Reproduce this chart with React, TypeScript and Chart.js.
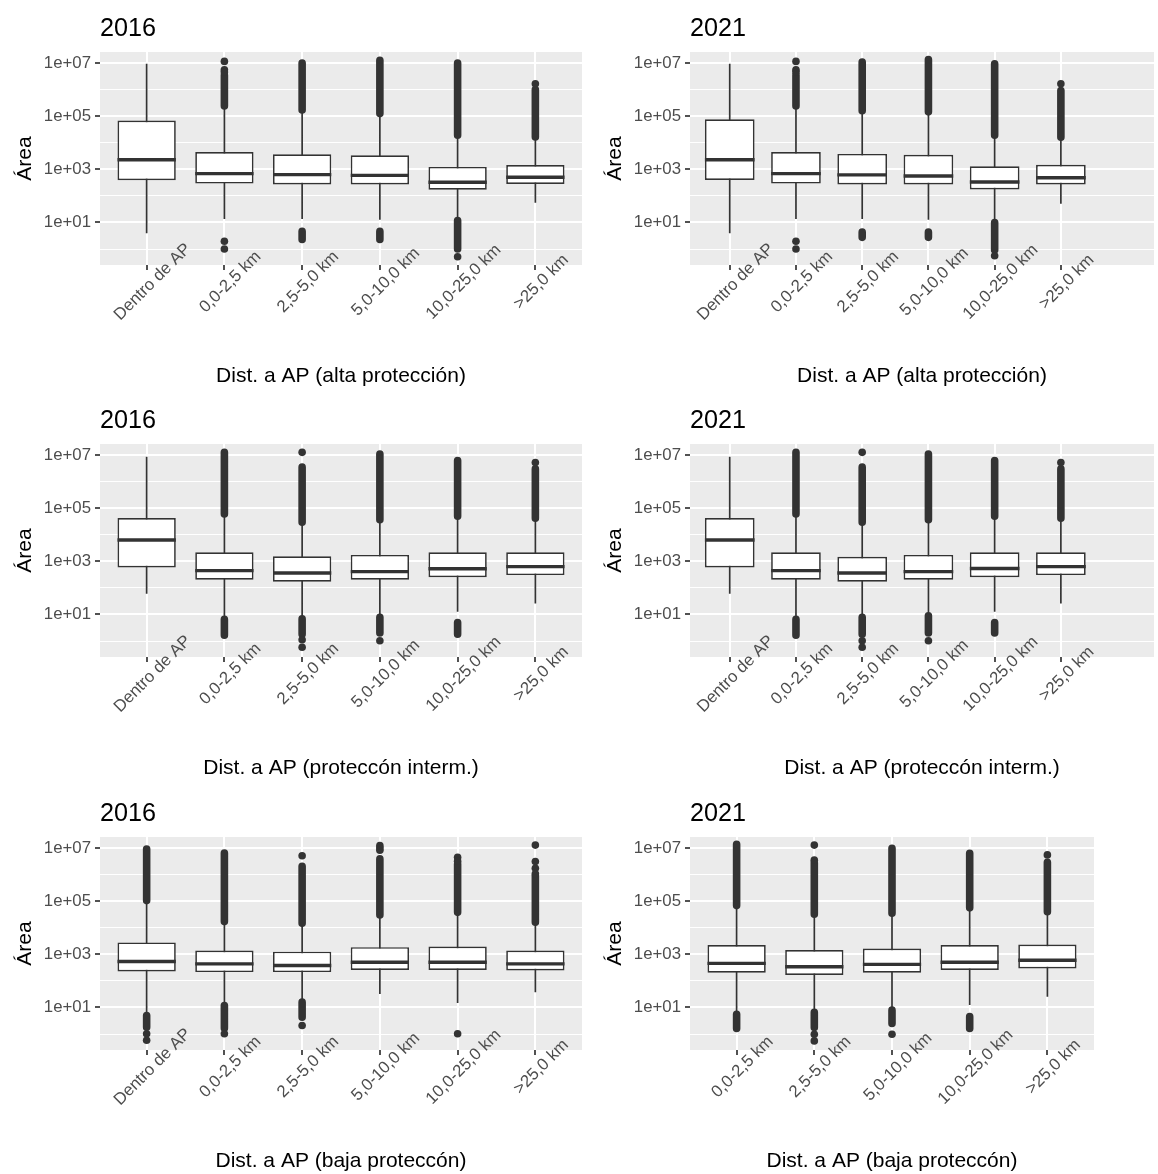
import React, { useEffect, useRef } from "react";
import { Chart, registerables } from "chart.js";

Chart.register(...registerables);

// ---------- DATA ----------
const catsAll = ["Dentro de AP", "0,0-2,5 km", "2,5-5,0 km", "5,0-10,0 km", "10,0-25,0 km", ">25,0 km"];
const catsOut = ["0,0-2,5 km", "2,5-5,0 km", "5,0-10,0 km", "10,0-25,0 km", ">25,0 km"];

const yTickValues = [1, 10, 100, 1e3, 1e4, 1e5, 1e6, 1e7];
const yLabelValues = [10, 1e3, 1e5, 1e7];

// 2016 - alta protección
const alta16Low = [3.9, 13.5, 13.5, 12.6, 13.5, 55];
const alta16Q1 = [389, 290, 270, 270, 170, 282];
const alta16Med = [2300, 690, 630, 590, 324, 500];
const alta16Q3 = [69000, 4500, 3700, 3400, 1230, 1450];
const alta16High = [9.3e6, 2.3e5, 1.66e5, 1.23e5, 1.86e4, 1.62e4];
const alta16OutHigh = [null, [2.4e5, 3.5e6], [1.7e5, 1.0e7], [1.25e5, 1.26e7], [1.9e4, 1.0e7], [1.65e4, 1.0e6]];
const alta16OutLow = [null, null, [2.3, 4.6], [2.3, 4.6], [1.0, 11.7], null];
const alta16Points = [[1, 1.15e7], [1, 5.6e6], [1, 4.6e6], [1, 1.95], [1, 1.0], [4, 0.51], [5, 1.66e6]];

// 2021 - alta protección
const alta21Low = [3.9, 13.5, 13.5, 12.6, 13.5, 50];
const alta21Q1 = [398, 290, 270, 270, 174, 270];
const alta21Med = [2300, 690, 617, 562, 331, 479];
const alta21Q3 = [75900, 4500, 3800, 3550, 1290, 1480];
const alta21High = [9.3e6, 2.3e5, 1.55e5, 1.4e5, 1.86e4, 1.55e4];
const alta21OutHigh = [null, [2.4e5, 3.5e6], [1.6e5, 1.1e7], [1.45e5, 1.35e7], [1.9e4, 9.3e6], [1.6e4, 9.3e5]];
const alta21OutLow = [null, null, [2.75, 4.3], [2.75, 4.3], [0.91, 10], null];
const alta21Points = [[1, 1.15e7], [1, 5.6e6], [1, 4.6e6], [1, 1.95], [1, 1.0], [4, 0.56], [5, 1.66e6]];

// 2016 - protección intermedia
const int16Low = [60, 6.8, 7.1, 8.5, 12.6, 26];
const int16Q1 = [590, 204, 170, 204, 251, 302];
const int16Med = [6300, 447, 363, 407, 525, 630];
const int16Q3 = [42700, 2190, 1550, 1740, 2190, 2190];
const int16High = [8.7e6, 5.6e4, 2.8e4, 3.5e4, 4.8e4, 4.0e4];
const int16OutHigh = [null, [6.0e4, 1.26e7], [2.95e4, 3.5e6], [3.7e4, 1.1e7], [5.0e4, 6.2e6], [4.2e4, 3.0e6]];
const int16OutLow = [null, [1.66, 6.5], [1.8, 6.8], [2.0, 7.8], [1.8, 5.0], null];
const int16Points = [[2, 1.26e7], [2, 1.12], [2, 0.58], [3, 1.02], [5, 5.2e6]];

// 2021 - protección intermedia
const int21Low = [60, 6.8, 7.1, 8.9, 12.6, 26];
const int21Q1 = [590, 204, 170, 204, 251, 302];
const int21Med = [6300, 447, 363, 407, 537, 630];
const int21Q3 = [42700, 2190, 1480, 1740, 2190, 2190];
const int21High = [8.7e6, 5.6e4, 2.8e4, 3.5e4, 4.8e4, 4.0e4];
const int21OutHigh = [null, [6.0e4, 1.26e7], [2.95e4, 3.5e6], [3.7e4, 1.1e7], [5.0e4, 6.2e6], [4.2e4, 3.0e6]];
const int21OutLow = [null, [1.66, 6.5], [1.8, 7.8], [2.0, 8.9], [2.0, 5.0], null];
const int21Points = [[2, 1.26e7], [2, 1.02], [2, 0.58], [3, 1.02], [5, 5.2e6]];

// 2016 - baja protección
const baja16Low = [5.2, 13.8, 18, 32, 14.8, 37];
const baja16Q1 = [224, 214, 214, 257, 257, 245];
const baja16Med = [537, 437, 380, 500, 500, 437];
const baja16Q3 = [2800, 1380, 1260, 1860, 1950, 1380];
const baja16High = [1.0e5, 1.6e4, 1.4e4, 2.9e4, 3.6e4, 1.55e4];
const baja16OutHigh = [[1.05e5, 9.1e6], [1.7e4, 6.5e6], [1.48e4, 2.04e6], [3.0e4, 3.9e6], [3.8e4, 2.5e6], [1.62e4, 9.1e5]];
const baja16OutLow = [[1.8, 5.0], [1.66, 11.7], [4.3, 15.8], null, null, null];
const baja16Points = [
  [0, 1.02], [0, 0.58], [1, 1.02], [2, 5.1e6], [2, 2.1],
  [3, 1.23e7], [3, 1.0e7], [3, 8.3e6], [4, 4.5e6], [4, 3.2e6], [4, 1.02],
  [5, 1.29e7], [5, 3.1e6], [5, 1.74e6], [5, 1.07e6],
];

// 2021 - baja protección
const baja21Low = [6.0, 7.2, 9.1, 12.3, 25];
const baja21Q1 = [204, 166, 204, 257, 295];
const baja21Med = [457, 339, 417, 500, 600];
const baja21Q3 = [2240, 1450, 1660, 2240, 2340];
const baja21High = [6.3e4, 3.0e4, 3.3e4, 5.2e4, 3.8e4];
const baja21OutHigh = [[6.8e4, 1.38e7], [3.2e4, 2.8e6], [3.5e4, 9.8e6], [5.6e4, 6.3e6], [4.0e4, 2.9e6]];
const baja21OutLow = [[1.62, 5.5], [1.74, 6.5], [2.5, 7.9], [1.62, 4.5], null];
const baja21Points = [[1, 1.29e7], [1, 3.5e6], [1, 0.98], [1, 0.55], [2, 0.98], [4, 5.5e6]];

// ---------- PANELS ----------
type Panel = {
  title: string;
  xTitle: string;
  cats: string[];
  low: number[];
  q1: number[];
  med: number[];
  q3: number[];
  high: number[];
  outHigh: (number[] | null)[];
  outLow: (number[] | null)[];
  points: number[][];
  left: number;
  top: number;
  width: number;
  height: number;
  axisWidth: number;
  padRight: number;
  xMax: number;
  yTitlePad: number;
};

const FONT = '"Liberation Sans", Arial, Helvetica, sans-serif';

const panels: Panel[] = [
  {
    title: "2016", xTitle: "Dist. a AP (alta protección)", cats: catsAll,
    low: alta16Low, q1: alta16Q1, med: alta16Med, q3: alta16Q3, high: alta16High,
    outHigh: alta16OutHigh, outLow: alta16OutLow, points: alta16Points,
    left: 0, top: 0, width: 600, height: 392, axisWidth: 100, padRight: 18, xMax: 5.6, yTitlePad: 13,
  },
  {
    title: "2021", xTitle: "Dist. a AP (alta protección)", cats: catsAll,
    low: alta21Low, q1: alta21Q1, med: alta21Med, q3: alta21Q3, high: alta21High,
    outHigh: alta21OutHigh, outLow: alta21OutLow, points: alta21Points,
    left: 600, top: 0, width: 558, height: 392, axisWidth: 90, padRight: 0, xMax: 6.406, yTitlePad: 3,
  },
  {
    title: "2016", xTitle: "Dist. a AP (proteccón interm.)", cats: catsAll,
    low: int16Low, q1: int16Q1, med: int16Med, q3: int16Q3, high: int16High,
    outHigh: int16OutHigh, outLow: int16OutLow, points: int16Points,
    left: 0, top: 392, width: 600, height: 393, axisWidth: 100, padRight: 18, xMax: 5.6, yTitlePad: 13,
  },
  {
    title: "2021", xTitle: "Dist. a AP (proteccón interm.)", cats: catsAll,
    low: int21Low, q1: int21Q1, med: int21Med, q3: int21Q3, high: int21High,
    outHigh: int21OutHigh, outLow: int21OutLow, points: int21Points,
    left: 600, top: 392, width: 558, height: 393, axisWidth: 90, padRight: 0, xMax: 6.406, yTitlePad: 3,
  },
  {
    title: "2016", xTitle: "Dist. a AP (baja proteccón)", cats: catsAll,
    low: baja16Low, q1: baja16Q1, med: baja16Med, q3: baja16Q3, high: baja16High,
    outHigh: baja16OutHigh, outLow: baja16OutLow, points: baja16Points,
    left: 0, top: 785, width: 600, height: 389, axisWidth: 100, padRight: 18, xMax: 5.6, yTitlePad: 13,
  },
  {
    title: "2021", xTitle: "Dist. a AP (baja proteccón)", cats: catsOut,
    low: baja21Low, q1: baja21Q1, med: baja21Med, q3: baja21Q3, high: baja21High,
    outHigh: baja21OutHigh, outLow: baja21OutLow, points: baja21Points,
    left: 600, top: 785, width: 558, height: 389, axisWidth: 90, padRight: 64, xMax: 4.6, yTitlePad: 3,
  },
];

const PLOT_TOP = 52;
const PLOT_BOTTOM = 265;
const TICK_LEN = 5;
const BOX_HALF = 0.375;

function fmtExp(v: number) {
  const e = Math.round(Math.log10(v));
  return "1e" + (e >= 0 ? "+" : "-") + String(Math.abs(e)).padStart(2, "0");
}
function isLabelled(v: number | undefined) {
  if (v === undefined || v === null) return false;
  const e = Math.round(Math.log10(v));
  return Math.abs(e % 2) === 1;
}

function segments(pairs: (number[] | null)[]) {
  const out: any[] = [];
  pairs.forEach((p, i) => {
    if (p) out.push({ x: i, y: p[0] }, { x: i, y: p[1] }, { x: i, y: null });
  });
  return out;
}

const ggPlugin = {
  id: "gg",
  beforeDraw(chart: any) {
    const { ctx, chartArea: a } = chart;
    ctx.save();
    ctx.fillStyle = "#EBEBEB";
    ctx.fillRect(a.left, a.top, a.right - a.left, a.bottom - a.top);
    ctx.restore();
  },
  afterDraw(chart: any, _args: any, opts: any) {
    const { ctx, chartArea: a } = chart;
    const xs = chart.scales.x;
    ctx.save();
    // panel title
    ctx.fillStyle = "#000000";
    ctx.font = `25.2px ${FONT}`;
    ctx.textAlign = "left";
    ctx.textBaseline = "alphabetic";
    ctx.fillText(opts.title, a.left, a.top - 16.3);
    // rotated category labels
    ctx.fillStyle = "#4D4D4D";
    ctx.font = `16.8px ${FONT}`;
    ctx.textAlign = "center";
    ctx.textBaseline = "middle";
    (opts.cats as string[]).forEach((c, i) => {
      const px = xs.getPixelForValue(i);
      ctx.save();
      ctx.translate(px + 6, a.bottom + 17);
      ctx.rotate(-Math.PI / 4);
      ctx.fillText(c, 0, 0);
      ctx.restore();
    });
    // x axis title
    ctx.fillStyle = "#000000";
    ctx.font = `21px ${FONT}`;
    ctx.textAlign = "center";
    ctx.textBaseline = "middle";
    ctx.fillText(opts.xTitle, (a.left + a.right) / 2, a.bottom + 111);
    ctx.restore();
  },
};

function PanelChart({ p }: { p: Panel }) {
  const ref = useRef<HTMLCanvasElement>(null);
  useEffect(() => {
    if (!ref.current) return;
    const n = p.cats.length;
    const whiskers = segments(p.cats.map((_, i) => [p.low[i], p.high[i]]));
    const medians: any[] = [];
    p.cats.forEach((_, i) => {
      medians.push({ x: i - BOX_HALF, y: p.med[i] }, { x: i + BOX_HALF, y: p.med[i] }, { x: i, y: null });
    });
    const boxes = p.cats.map((_, i) => ({ x: i, y: [p.q1[i], p.q3[i]] }));
    const dense = [...segments(p.outHigh), ...segments(p.outLow)];
    const pts = p.points.map(([i, v]) => ({ x: i, y: v }));

    const chart = new Chart(ref.current, {
      type: "bar",
      data: {
        datasets: [
          {
            type: "line",
            data: whiskers,
            borderColor: "#333333",
            borderWidth: 1.7,
            pointRadius: 0,
            spanGaps: false,
            order: 4,
          } as any,
          {
            type: "bar",
            data: boxes,
            backgroundColor: "#FFFFFF",
            borderColor: "#333333",
            borderWidth: 1.7,
            borderSkipped: false,
            categoryPercentage: 0.75,
            barPercentage: 1,
            order: 3,
          } as any,
          {
            type: "line",
            data: medians,
            borderColor: "#333333",
            borderWidth: 3.4,
            pointRadius: 0,
            spanGaps: false,
            order: 2,
          } as any,
          {
            type: "line",
            data: dense,
            borderColor: "#333333",
            borderWidth: 7.6,
            borderCapStyle: "round",
            pointRadius: 0,
            spanGaps: false,
            order: 1,
          } as any,
          {
            type: "line",
            data: pts,
            showLine: false,
            pointRadius: 3.8,
            pointBackgroundColor: "#333333",
            pointBorderWidth: 0,
            order: 0,
          } as any,
        ],
      },
      options: {
        animation: false,
        responsive: false,
        devicePixelRatio: 1,
        events: [],
        layout: {
          padding: {
            top: PLOT_TOP,
            bottom: p.height - PLOT_BOTTOM - TICK_LEN,
            left: 0,
            right: p.padRight,
          },
        },
        plugins: {
          legend: { display: false },
          tooltip: { enabled: false },
          title: { display: false },
          gg: { title: p.title, xTitle: p.xTitle, cats: p.cats },
        } as any,
        scales: {
          x: {
            type: "linear",
            min: -0.6,
            max: p.xMax,
            offset: false,
            afterBuildTicks: (axis: any) => {
              axis.ticks = Array.from({ length: n }, (_, i) => ({ value: i }));
            },
            afterFit: (s: any) => {
              s.height = TICK_LEN;
            },
            ticks: { display: false, autoSkip: false },
            grid: {
              offset: false,
              color: "#FFFFFF",
              lineWidth: 2,
              drawTicks: true,
              tickLength: TICK_LEN,
              tickColor: "#333333",
              tickWidth: 1.7,
            },
            border: { display: false },
          },
          y: {
            type: "logarithmic",
            min: 0.25,
            max: 2.6e7,
            afterBuildTicks: (axis: any) => {
              axis.ticks = yTickValues.map((v) => ({ value: v }));
            },
            afterFit: (s: any) => {
              s.width = p.axisWidth;
            },
            ticks: {
              autoSkip: false,
              padding: 4,
              color: "#4D4D4D",
              font: { size: 16.8, family: FONT },
              callback: (v: any) => (yLabelValues.includes(Number(v)) ? fmtExp(Number(v)) : ""),
            },
            grid: {
              color: "#FFFFFF",
              lineWidth: (c: any) => (isLabelled(c.tick?.value) ? 2 : 1),
              drawTicks: true,
              tickLength: TICK_LEN,
              tickColor: (c: any) => (isLabelled(c.tick?.value) ? "#333333" : "rgba(0,0,0,0)"),
              tickWidth: 1.7,
            },
            border: { display: false },
            title: {
              display: true,
              text: "Área",
              color: "#000000",
              font: { size: 21, family: FONT },
              padding: { top: p.yTitlePad, bottom: 0 },
            },
          },
        },
      } as any,
      plugins: [ggPlugin as any],
    });
    return () => chart.destroy();
  }, [p]);

  return (
    <canvas
      ref={ref}
      width={p.width}
      height={p.height}
      style={{ position: "absolute", left: p.left, top: p.top, width: p.width, height: p.height }}
    />
  );
}

export default function App() {
  return (
    <div
      style={{
        position: "absolute",
        left: 0,
        top: 0,
        width: 1158,
        height: 1174,
        overflow: "hidden",
        background: "#FFFFFF",
        fontFamily: FONT,
      }}
    >
      {panels.map((p, i) => (
        <PanelChart key={i} p={p} />
      ))}
    </div>
  );
}
